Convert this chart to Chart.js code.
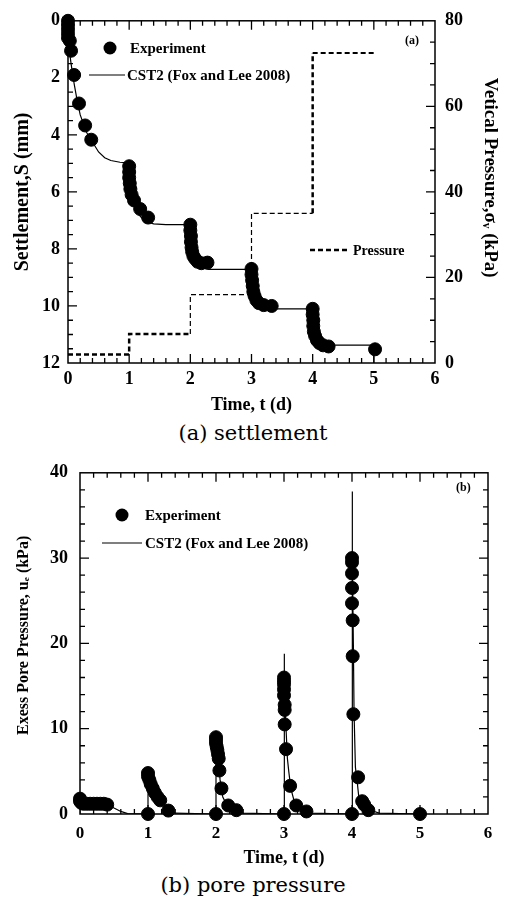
<!DOCTYPE html>
<html>
<head>
<meta charset="utf-8">
<script src="https://cdn.jsdelivr.net/npm/chart.js@4.4.0/dist/chart.umd.min.js"></script>
<style>
body { margin: 0; background: #fff; width: 506px; height: 906px; position: relative; overflow: hidden; }
canvas { position: absolute; left: 0; }
.cap { position: absolute; left: 0; width: 506px; text-align: center; font: 21px "DejaVu Serif"; color: #000; }
</style>
</head>
<body>
<canvas id="topChart" width="506" height="420" style="top:0"></canvas>
<div class="cap" style="top:421px">(a) settlement</div>
<canvas id="bottomChart" width="506" height="420" style="top:450px"></canvas>
<div class="cap" style="top:873px">(b) pore pressure</div>
<script>
// axis ranges
var t_range = [0, 6];
var s_range = [0, 12];
var p_range = [0, 80];
var u_range = [0, 40];

// (a) settlement, experiment
var exp_s_t = [0, 0, 0, 0, 0, 0.03, 0.05, 0.1, 0.18, 0.28, 0.38,
  1.0, 1.0, 1.0, 1.01, 1.02, 1.04, 1.08, 1.18, 1.31,
  2.0, 2.0, 2.01, 2.01, 2.02, 2.03, 2.05, 2.08, 2.12, 2.18, 2.28,
  3.0, 3.0, 3.01, 3.02, 3.03, 3.05, 3.08, 3.12, 3.2, 3.33,
  4.0, 4.0, 4.01, 4.01, 4.02, 4.04, 4.07, 4.11, 4.17, 4.26,
  5.02];
var exp_s_mm = [0, 0.15, 0.3, 0.45, 0.6, 0.7, 1.05, 1.9, 2.9, 3.67, 4.17,
  5.1, 5.3, 5.5, 5.7, 5.9, 6.1, 6.3, 6.6, 6.9,
  7.15, 7.35, 7.55, 7.75, 7.95, 8.1, 8.25, 8.35, 8.45, 8.5, 8.48,
  8.7, 8.9, 9.1, 9.3, 9.5, 9.65, 9.8, 9.9, 9.97, 10.0,
  10.1, 10.3, 10.5, 10.7, 10.9, 11.05, 11.2, 11.3, 11.38, 11.42,
  11.52];

// (a) settlement, CST2 model
var fit_s_t = [0, 0.005, 0.02, 0.05, 0.1, 0.15, 0.2, 0.3, 0.4, 0.5, 0.6, 0.7, 0.85, 1.0,
  1.005, 1.02, 1.06, 1.12, 1.2, 1.3, 1.4, 1.6, 2.0,
  2.005, 2.02, 2.06, 2.12, 2.2, 2.3, 3.0,
  3.005, 3.02, 3.06, 3.12, 3.2, 3.3, 4.0,
  4.005, 4.02, 4.06, 4.12, 4.2, 4.3, 5.0, 5.0];
var fit_s_mm = [0, 0.5, 1.0, 1.5, 2.2, 2.8, 3.3, 3.9, 4.25, 4.6, 4.8, 4.9, 4.96, 4.98,
  5.5, 6.0, 6.4, 6.7, 6.9, 7.05, 7.12, 7.15, 7.15,
  7.6, 8.0, 8.3, 8.55, 8.67, 8.72, 8.72,
  9.2, 9.6, 9.85, 10.0, 10.07, 10.1, 10.1,
  10.6, 10.95, 11.15, 11.28, 11.34, 11.37, 11.37, 12];

// (a) applied vertical pressure
var press_t = [0, 1, 1, 2, 2, 3, 3, 4, 4, 5];
var press_kpa = [2, 2, 6.8, 6.8, 16, 16, 35, 35, 72.5, 72.5];

// (b) pore pressure, experiment
var exp_u_t = [0, 0, 0.02, 0.05, 0.1, 0.15, 0.2, 0.25, 0.3, 0.35, 0.4,
  1.0, 1.0, 1.0, 1.02, 1.04, 1.07, 1.1, 1.14, 1.18, 1.3,
  2.0, 2.0, 2.0, 2.0, 2.01, 2.02, 2.03, 2.04, 2.05, 2.08, 2.18, 2.3,
  3.0, 3.0, 3.0, 3.0, 3.0, 3.0, 3.01, 3.01, 3.01, 3.03, 3.09, 3.18, 3.33,
  4.0, 4.0, 4.0, 4.0, 4.0, 4.0, 4.01, 4.01, 4.02, 4.09, 4.15, 4.18, 4.24,
  5.0];
var exp_u_kpa = [1.8, 1.5, 1.3, 1.2, 1.2, 1.2, 1.2, 1.2, 1.2, 1.2, 1.1,
  0, 4.8, 4.4, 4.0, 3.5, 3.0, 2.5, 2.0, 1.6, 0.4,
  0, 9.0, 8.7, 8.3, 7.9, 7.5, 7.0, 6.5, 5.1, 3.0, 1.0, 0.45,
  0, 16.0, 15.6, 15.2, 14.6, 13.9, 12.8, 12.2, 10.5, 7.6, 3.3, 1.0, 0.3,
  0, 30.0, 29.5, 28.2, 26.5, 24.7, 22.7, 18.5, 11.7, 4.3, 1.5, 1.1, 0.45,
  0];

// (b) pore pressure, CST2 model
var fit_u_t = [0, 0, 0.02, 0.05, 0.2, 0.4, 0.5, 0.6, 0.7, 1.0,
  1.0, 1.02, 1.05, 1.1, 1.15, 1.2, 1.3, 1.4, 2.0,
  2.0, 2.02, 2.04, 2.06, 2.1, 2.15, 2.25, 2.4, 3.0,
  3.0, 3.01, 3.03, 3.05, 3.07, 3.1, 3.15, 3.25, 3.4, 4.0,
  4.0, 4.01, 4.02, 4.03, 4.05, 4.08, 4.1, 4.15, 4.25, 4.4, 5.0];
var fit_u_kpa = [0, 2.0, 1.6, 1.4, 1.3, 1.15, 0.7, 0.3, 0.05, 0,
  5.0, 4.2, 3.5, 2.6, 2.0, 1.5, 0.6, 0.1, 0,
  9.2, 8.0, 6.0, 4.0, 2.0, 1.2, 0.5, 0.1, 0,
  18.8, 15.0, 10.0, 6.5, 5.0, 3.0, 1.5, 0.6, 0.1, 0,
  37.8, 30.0, 20.0, 12.0, 5.5, 3.5, 2.0, 1.3, 0.5, 0.1, 0];

var serif = '"Liberation Serif", "Times New Roman", serif';

function pts(xs, ys) {
  return xs.map(function(x, i) { return {x: x, y: ys[i]}; });
}

// minor/major tick values along one axis range
function tickValues(range, step, major) {
  var out = [];
  var n = Math.round((range[1] - range[0]) / step);
  for (var i = 1; i < n; i++) {
    var v = range[0] + i * step;
    var q = v / major;
    out.push({v: v, len: Math.abs(q - Math.round(q)) < 1e-6 ? 9 : 5});
  }
  return out;
}

// inward tick marks: short line markers sitting on a frame edge, clipped to the plot
function edgeTicks(ticks, at, vertical, yAxisID) {
  return {
    label: 'ticks',
    data: ticks.map(function(t) { return vertical ? {x: t.v, y: at} : {x: at, y: t.v}; }),
    yAxisID: yAxisID,
    showLine: false,
    clip: 0,
    pointStyle: 'line',
    pointRotation: vertical ? 90 : 0,
    pointRadius: ticks.map(function(t) { return t.len; }),
    pointBorderColor: '#000',
    pointBackgroundColor: '#000',
    pointBorderWidth: 1.3
  };
}

// frame box and the hand placed key
function decorate(items) {
  return {
    id: 'decorate',
    afterDraw: function(chart) {
      var ctx = chart.ctx, a = chart.chartArea;
      ctx.save();
      ctx.setLineDash([]);
      ctx.strokeStyle = '#000';
      ctx.fillStyle = '#000';
      ctx.lineWidth = 1.5;
      ctx.strokeRect(a.left, a.top, a.right - a.left, a.bottom - a.top);
      ctx.textBaseline = 'middle';
      items.forEach(function(it) {
        if (it.kind == 'dot') {
          ctx.beginPath();
          ctx.arc(it.x, it.y, 6.5, 0, Math.PI * 2);
          ctx.fill();
        }
        if (it.kind == 'line' || it.kind == 'dash') {
          ctx.lineWidth = it.kind == 'dash' ? 2.5 : 1.2;
          ctx.setLineDash(it.kind == 'dash' ? [5, 3] : []);
          ctx.beginPath();
          ctx.moveTo(it.x, it.y);
          ctx.lineTo(it.x2, it.y);
          ctx.stroke();
          ctx.setLineDash([]);
        }
        ctx.font = 'bold ' + (it.size || 15) + 'px ' + serif;
        ctx.fillText(it.text, it.tx, it.y + 1);
      });
      ctx.restore();
    }
  };
}

function noGrid() {
  return {display: false, drawTicks: false};
}

var tickFont = {family: serif, size: 18, weight: 'bold'};

var t_ticks = tickValues(t_range, 0.2, 1);

var topChart = new Chart(document.getElementById('topChart'), {
  type: 'scatter',
  data: {
    datasets: [
      {
        label: 'Experiment',
        data: pts(exp_s_t, exp_s_mm),
        yAxisID: 'y',
        backgroundColor: '#000',
        borderColor: '#000',
        pointRadius: 6.5,
        showLine: false,
        clip: false
      },
      {
        label: 'CST2 (Fox and Lee 2008)',
        data: pts(fit_s_t, fit_s_mm),
        yAxisID: 'y',
        borderColor: '#000',
        borderWidth: 1.2,
        pointRadius: 0,
        showLine: true
      },
      {
        label: 'Pressure',
        data: pts(press_t, press_kpa),
        yAxisID: 'y2',
        borderColor: '#000',
        borderDash: [5, 3],
        pointRadius: 0,
        showLine: true,
        segment: {
          borderWidth: function(c) {
            var i = c.p0DataIndex;
            if (i < 3 || i == 7) return 2.5;
            if (i == 8) return 2;
            return 1.2;
          }
        }
      },
      edgeTicks(t_ticks, s_range[1], true, 'y'),
      edgeTicks(t_ticks, s_range[0], true, 'y'),
      edgeTicks(tickValues(s_range, 0.5, 2), t_range[0], false, 'y'),
      edgeTicks(tickValues(p_range, 5, 20), t_range[1], false, 'y2')
    ]
  },
  options: {
    responsive: false,
    animation: false,
    layout: {padding: {top: 20, left: 0, right: 0, bottom: 0}},
    plugins: {
      legend: {display: false},
      tooltip: {enabled: false}
    },
    scales: {
      x: {
        type: 'linear', min: t_range[0], max: t_range[1],
        grid: noGrid(), border: {display: false},
        ticks: {stepSize: 1, color: '#000', font: tickFont, padding: 6},
        title: {display: true, text: 'Time, t (d)', color: '#000', padding: {top: 0, bottom: 4},
          font: {family: serif, size: 18, weight: 'bold'}},
        afterFit: function(s) { s.height = 57; }
      },
      y: {
        type: 'linear', position: 'left', reverse: true, min: s_range[0], max: s_range[1],
        grid: noGrid(), border: {display: false},
        ticks: {stepSize: 2, color: '#000', font: tickFont, padding: 8},
        title: {display: true, text: 'Settlement,S (mm)', color: '#000', padding: {top: 11, bottom: 0},
          font: {family: serif, size: 20, weight: 'bold'}},
        afterFit: function(s) { s.width = 68; }
      },
      y2: {
        type: 'linear', position: 'right', min: p_range[0], max: p_range[1],
        grid: noGrid(), border: {display: false},
        ticks: {stepSize: 20, color: '#000', font: tickFont, padding: 10},
        title: {display: true, text: 'Vetical Pressure,σᵥ (kPa)      ', color: '#000', padding: {top: 5, bottom: 0},
          font: {family: serif, size: 19, weight: 'bold'}},
        afterFit: function(s) { s.width = 71; }
      }
    }
  },
  plugins: [
    decorate([
      {kind: 'dot', x: 110, y: 48, tx: 130, text: 'Experiment'},
      {kind: 'line', x: 89, x2: 125, y: 75, tx: 127, text: 'CST2 (Fox and Lee 2008)'},
      {kind: 'dash', x: 310, x2: 348, y: 250, tx: 353, size: 14, text: 'Pressure'},
      {kind: 'none', y: 40, tx: 405, size: 12, text: '(a)'}
    ])
  ]
});

var u_ticks = tickValues(u_range, 2, 10);

var bottomChart = new Chart(document.getElementById('bottomChart'), {
  type: 'scatter',
  data: {
    datasets: [
      {
        label: 'Experiment',
        data: pts(exp_u_t, exp_u_kpa),
        backgroundColor: '#000',
        borderColor: '#000',
        pointRadius: 6.5,
        showLine: false,
        clip: false
      },
      {
        label: 'CST2 (Fox and Lee 2008)',
        data: pts(fit_u_t, fit_u_kpa),
        borderColor: '#000',
        borderWidth: 1.2,
        pointRadius: 0,
        showLine: true
      },
      edgeTicks(t_ticks, u_range[0], true, 'y'),
      edgeTicks(t_ticks, u_range[1], true, 'y'),
      edgeTicks(u_ticks, t_range[0], false, 'y'),
      edgeTicks(u_ticks, t_range[1], false, 'y')
    ]
  },
  options: {
    responsive: false,
    animation: false,
    layout: {padding: {top: 13, left: 0, right: 18, bottom: 0}},
    plugins: {
      legend: {display: false},
      tooltip: {enabled: false}
    },
    scales: {
      x: {
        type: 'linear', min: t_range[0], max: t_range[1],
        grid: noGrid(), border: {display: false},
        ticks: {stepSize: 1, color: '#000', font: {family: serif, size: 17, weight: 'bold'}, padding: 9},
        title: {display: true, text: 'Time, t (d)', color: '#000', padding: {top: 0, bottom: 1},
          font: {family: serif, size: 18, weight: 'bold'}},
        afterFit: function(s) { s.height = 56; }
      },
      y: {
        type: 'linear', position: 'left', min: u_range[0], max: u_range[1],
        grid: noGrid(), border: {display: false},
        ticks: {stepSize: 10, color: '#000', font: tickFont, padding: 12},
        title: {display: true, text: '    Exess Pore Pressure, uₑ (kPa)', color: '#000', padding: {top: 14, bottom: 0},
          font: {family: serif, size: 16, weight: 'bold'}},
        afterFit: function(s) { s.width = 80; }
      }
    }
  },
  plugins: [
    decorate([
      {kind: 'dot', x: 122, y: 65, tx: 145, text: 'Experiment'},
      {kind: 'line', x: 102, x2: 142, y: 93, tx: 145, text: 'CST2 (Fox and Lee 2008)'},
      {kind: 'none', y: 37, tx: 456, size: 12, text: '(b)'}
    ])
  ]
});
</script>
</body>
</html>
